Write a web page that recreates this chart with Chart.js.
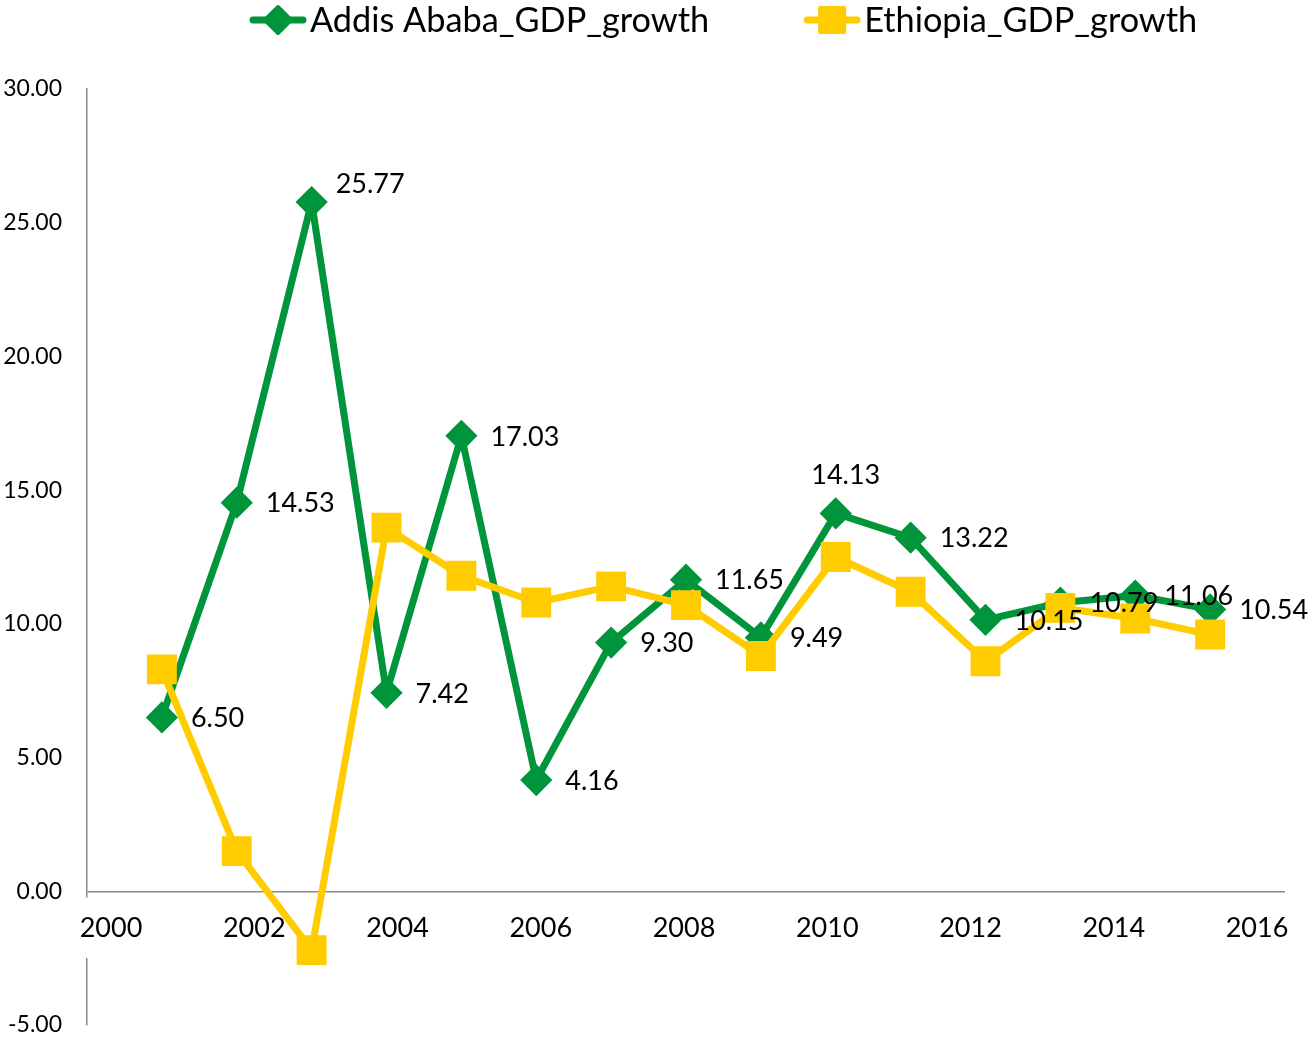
<!DOCTYPE html>
<html>
<head>
<meta charset="utf-8">
<title>Addis Ababa vs Ethiopia GDP growth</title>
<script src="https://cdn.jsdelivr.net/npm/chart.js@4.4.0/dist/chart.umd.min.js"></script>
<style>
    html, body { margin: 0; padding: 0; background: #ffffff; }
    #wrap { width: 1312px; height: 1038px; }
</style>
</head>
<body>
<div id="wrap"><canvas id="gdpChart"></canvas></div>
<script>
// Chart data
const years = [2001, 2002, 2003, 2004, 2005, 2006, 2007, 2008, 2009, 2010, 2011, 2012, 2013, 2014, 2015];
const addisGrowth = [6.50, 14.53, 25.77, 7.42, 17.03, 4.16, 9.30, 11.65, 9.49, 14.13, 13.22, 10.15, 10.79, 11.06, 10.54];
const ethiopiaGrowth = [8.3, 1.5, -2.2, 13.6, 11.8, 10.8, 11.4, 10.7, 8.8, 12.5, 11.2, 8.6, 10.6, 10.2, 9.6];
const yearTicks = [2000, 2002, 2004, 2006, 2008, 2010, 2012, 2014, 2016];
const seriesNames = ['Addis Ababa_GDP_growth', 'Ethiopia_GDP_growth'];

const GREEN = '#00953b';
const YELLOW = '#ffcc00';
const AXIS_GREY = '#898989';
const FONT = 'Lato, "Open Sans", sans-serif';

// Label placement tweaks (default: right of the point)
const labelTweaks = {
    2: { dx: 24, dy: -18, align: 'left' },
    9: { dx: 10, dy: -38, align: 'center' }
};

function toPoints(values) {
    return values.map((v, i) => ({ x: years[i], y: v }));
}

// Marker shapes for the legend
function drawDiamond(ctx, x, y, r) {
    ctx.beginPath();
    ctx.moveTo(x, y - r);
    ctx.lineTo(x + r, y);
    ctx.lineTo(x, y + r);
    ctx.lineTo(x - r, y);
    ctx.closePath();
    ctx.fill();
    ctx.stroke();
}

function drawSquare(ctx, x, y, half) {
    ctx.beginPath();
    ctx.rect(x - half, y - half, half * 2, half * 2);
    ctx.fill();
    ctx.stroke();
}

// Legend drawn across the top, line + marker like the spreadsheet
const topLegend = {
    id: 'topLegend',
    afterDraw(chart) {
        const ctx = chart.ctx;
        const area = chart.chartArea;
        const y = 20;
        const iconW = 56;
        const gap = 95;
        ctx.save();
        ctx.font = '34.3px ' + FONT;
        ctx.textBaseline = 'middle';
        ctx.lineJoin = 'round';
        ctx.lineCap = 'round';

        let x = area.left + 163;
        chart.data.datasets.forEach((ds) => {
            ctx.strokeStyle = ds.borderColor;
            ctx.fillStyle = ds.borderColor;
            ctx.lineWidth = 7;
            ctx.beginPath();
            ctx.moveTo(x + 3, y);
            ctx.lineTo(x + iconW - 3, y);
            ctx.stroke();
            ctx.lineWidth = 4;
            if (ds.pointStyle === 'rectRot') {
                drawDiamond(ctx, x + iconW / 2, y, 13);
            } else {
                drawSquare(ctx, x + iconW / 2, y, 12);
            }
            ctx.fillStyle = '#000000';
            ctx.textAlign = 'left';
            ctx.fillText(ds.label, x + iconW + 4, y + 1);
            x += iconW + 4 + ctx.measureText(ds.label).width + gap;
        });
        ctx.restore();
    }
};

// Value labels for the Addis Ababa series
const valueLabels = {
    id: 'valueLabels',
    afterDatasetsDraw(chart) {
        const ctx = chart.ctx;
        const meta = chart.getDatasetMeta(0);
        ctx.save();
        ctx.font = '27px ' + FONT;
        ctx.fillStyle = '#000000';
        ctx.textBaseline = 'middle';
        meta.data.forEach((pt, i) => {
            const t = labelTweaks[i] || { dx: 29, dy: 1, align: 'left' };
            ctx.textAlign = t.align;
            ctx.fillText(addisGrowth[i].toFixed(2), pt.x + t.dx, pt.y + t.dy);
        });
        ctx.restore();
    }
};

const ctx = document.getElementById('gdpChart').getContext('2d');

new Chart(ctx, {
    type: 'line',
    data: {
        datasets: [
            {
                label: seriesNames[0],
                data: toPoints(addisGrowth),
                borderColor: GREEN,
                backgroundColor: GREEN,
                borderWidth: 7,
                borderJoinStyle: 'round',
                borderCapStyle: 'round',
                pointStyle: 'rectRot',
                pointRadius: 14,
                pointBorderWidth: 3,
                pointBackgroundColor: GREEN,
                pointBorderColor: GREEN,
                tension: 0,
                order: 1
            },
            {
                label: seriesNames[1],
                data: toPoints(ethiopiaGrowth),
                borderColor: YELLOW,
                backgroundColor: YELLOW,
                borderWidth: 7,
                borderJoinStyle: 'round',
                borderCapStyle: 'round',
                pointStyle: 'rect',
                pointRadius: 19,
                pointBorderWidth: 3,
                pointBackgroundColor: YELLOW,
                pointBorderColor: YELLOW,
                tension: 0,
                order: 0
            }
        ]
    },
    options: {
        responsive: true,
        maintainAspectRatio: false,
        animation: false,
        layout: {
            autoPadding: false,
            padding: { left: 0, right: 27, top: 89, bottom: 0 }
        },
        plugins: {
            legend: { display: false },
            tooltip: { enabled: false }
        },
        scales: {
            x: {
                type: 'linear',
                min: 2000,
                max: 2016,
                display: false
            },
            // Year labels, spread the way the original axis spaced them
            x2: {
                type: 'linear',
                position: 'bottom',
                min: 1999.665,
                max: 2016.391,
                grid: { display: false, drawTicks: false },
                border: { display: false },
                afterBuildTicks: (scale) => {
                    scale.ticks = yearTicks.map(v => ({ value: v }));
                },
                afterFit: (scale) => {
                    scale.height = 13;
                    scale.paddingLeft = 0;
                    scale.paddingRight = 0;
                },
                ticks: {
                    z: 0,
                    mirror: true,
                    padding: 81,
                    maxRotation: 0,
                    autoSkip: false,
                    color: '#000000',
                    font: { family: FONT, size: 27 },
                    callback: (value) => String(value),
                    showLabelBackdrop: true,
                    backdropColor: '#ffffff',
                    backdropPadding: { top: 14, bottom: 14, left: 2, right: 2 }
                }
            },
            y: {
                min: -5,
                max: 30,
                afterFit: (scale) => {
                    scale.width = 87;
                    scale.paddingTop = 0;
                    scale.paddingBottom = 0;
                },
                grid: {
                    drawTicks: false,
                    lineWidth: 1.5,
                    color: (c) => (c.tick && c.tick.value === 0 ? AXIS_GREY : 'rgba(0,0,0,0)')
                },
                border: { display: true, color: AXIS_GREY, width: 1.5, z: -1 },
                ticks: {
                    stepSize: 5,
                    padding: 25,
                    color: '#000000',
                    font: { family: FONT, size: 23 },
                    callback: (value) => value.toFixed(2)
                }
            }
        }
    },
    plugins: [topLegend, valueLabels]
});
</script>
</body>
</html>
